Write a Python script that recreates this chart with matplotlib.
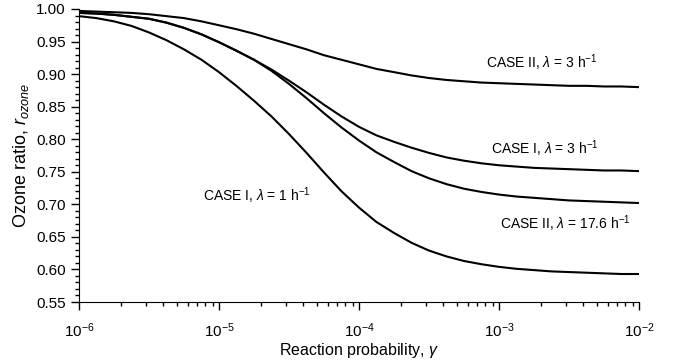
import numpy as np
import matplotlib
matplotlib.use("Agg")
import matplotlib.pyplot as plt
from matplotlib.ticker import LogLocator, MultipleLocator


plt.rcParams["font.family"] = ["Liberation Sans", "DejaVu Sans"]
plt.rcParams["mathtext.fontset"] = "custom"
plt.rcParams["mathtext.rm"] = "Liberation Sans"
plt.rcParams["mathtext.it"] = "Liberation Sans:italic"

# reaction probability, 8 points per decade
gamma = [1.00e-6, 1.33e-6, 1.78e-6, 2.37e-6, 3.16e-6, 4.22e-6, 5.62e-6, 7.50e-6,
         1.00e-5, 1.33e-5, 1.78e-5, 2.37e-5, 3.16e-5, 4.22e-5, 5.62e-5, 7.50e-5,
         1.00e-4, 1.33e-4, 1.78e-4, 2.37e-4, 3.16e-4, 4.22e-4, 5.62e-4, 7.50e-4,
         1.00e-3, 1.33e-3, 1.78e-3, 2.37e-3, 3.16e-3, 4.22e-3, 5.62e-3, 7.50e-3,
         1.00e-2]

case2_lam3 = [0.997, 0.996, 0.995, 0.994, 0.992, 0.989, 0.986, 0.981,
              0.975, 0.969, 0.962, 0.954, 0.946, 0.938, 0.929, 0.922,
              0.915, 0.908, 0.903, 0.898, 0.894, 0.891, 0.889, 0.887,
              0.886, 0.885, 0.884, 0.883, 0.882, 0.882, 0.881, 0.881,
              0.880]
case1_lam3 = [0.994, 0.993, 0.991, 0.988, 0.985, 0.979, 0.971, 0.961,
              0.949, 0.936, 0.922, 0.907, 0.890, 0.872, 0.853, 0.835,
              0.819, 0.806, 0.796, 0.787, 0.779, 0.772, 0.767, 0.763,
              0.760, 0.758, 0.756, 0.755, 0.754, 0.753, 0.752, 0.752,
              0.751]
case2_lam176 = [0.994, 0.993, 0.991, 0.988, 0.985, 0.979, 0.971, 0.961,
                0.949, 0.936, 0.922, 0.905, 0.885, 0.863, 0.840, 0.818,
                0.798, 0.780, 0.765, 0.751, 0.740, 0.731, 0.724, 0.719,
                0.715, 0.712, 0.710, 0.708, 0.706, 0.705, 0.704, 0.703,
                0.702]
case1_lam1 = [0.989, 0.986, 0.981, 0.974, 0.964, 0.952, 0.938, 0.922,
              0.903, 0.882, 0.859, 0.835, 0.808, 0.779, 0.749, 0.720,
              0.695, 0.673, 0.656, 0.641, 0.629, 0.620, 0.613, 0.608,
              0.604, 0.601, 0.599, 0.597, 0.596, 0.595, 0.594, 0.593,
              0.593]

labels = [
    r"CASE II, $\mathit{\lambda}$ = 3 h$^{-1}$",
    r"CASE I, $\mathit{\lambda}$ = 3 h$^{-1}$",
    r"CASE II, $\mathit{\lambda}$ = 17.6 h$^{-1}$",
    r"CASE I, $\mathit{\lambda}$ = 1 h$^{-1}$",
]
label_x = [2.03e-3, 2.13e-3, 2.96e-3, 1.87e-5]
label_y = [0.917, 0.786, 0.671, 0.714]

fig = plt.figure(figsize=(6.73, 3.64), dpi=100)
ax = fig.add_axes([0.1174, 0.1703, 0.8321, 0.805])

for series in (case2_lam3, case1_lam3, case2_lam176, case1_lam1):
    ax.plot(gamma, series, color="black", linewidth=1.5)

for text, tx, ty in zip(labels, label_x, label_y):
    ax.text(tx, ty, text, ha="center", va="center", fontsize=10)

ax.set_xscale("log")
ax.set_xlim(1e-6, 1e-2)
ax.set_ylim(0.55, 1.00)

ax.xaxis.set_major_locator(LogLocator(base=10, numticks=10))
ax.xaxis.set_minor_locator(LogLocator(base=10, subs=np.arange(2, 10), numticks=10))
ax.yaxis.set_major_locator(MultipleLocator(0.05))
ax.yaxis.set_minor_locator(MultipleLocator(0.01))
ax.yaxis.set_major_formatter(plt.FormatStrFormatter("%.2f"))

ax.spines["top"].set_visible(False)
ax.spines["right"].set_visible(False)
ax.tick_params(axis="both", which="major", direction="out", length=6,
               width=1, labelsize=11)
ax.tick_params(axis="both", which="minor", direction="out", length=3, width=1)
ax.tick_params(axis="x", which="major", pad=8)

ax.set_xlabel(r"Reaction probability, $\mathit{\gamma}$", fontsize=11.5, labelpad=1)
ax.set_ylabel(r"Ozone ratio, $r_{ozone}$", fontsize=13, labelpad=4)

fig.savefig("out.png", dpi=100)
